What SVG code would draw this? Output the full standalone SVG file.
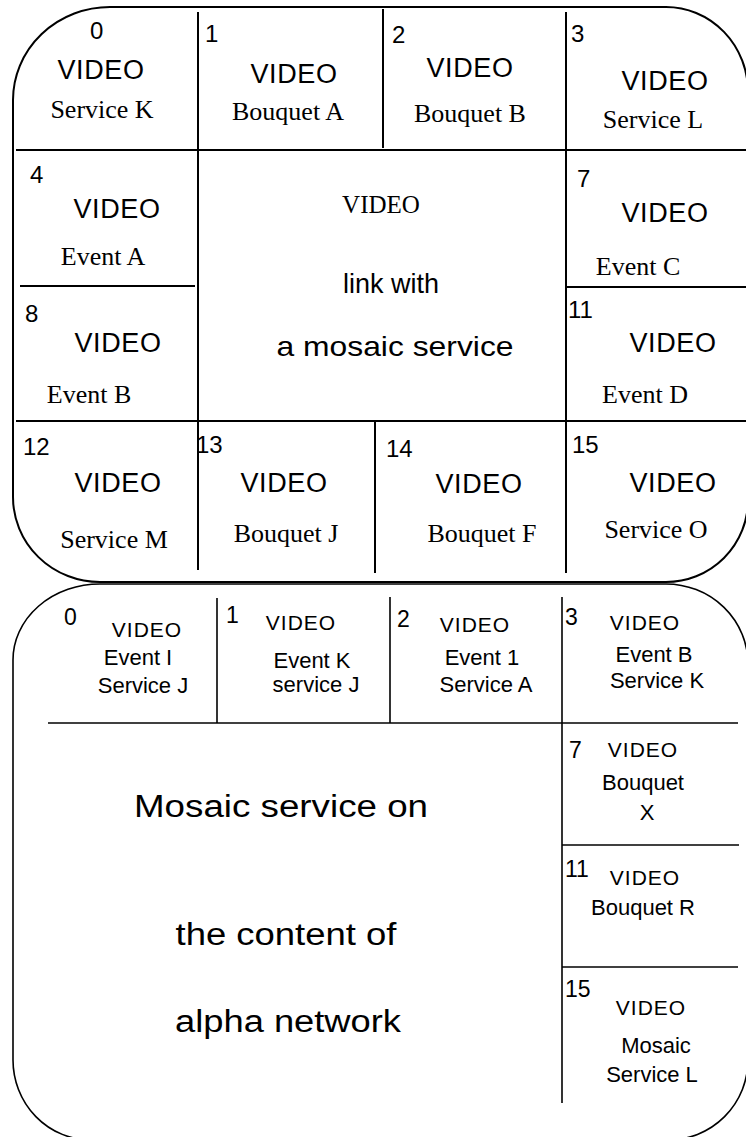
<svg xmlns="http://www.w3.org/2000/svg" width="746" height="1137" viewBox="0 0 746 1137">
<style>
.frame{fill:none;stroke:#000;stroke-width:2}
.frame2{fill:none;stroke:#000;stroke-width:1.6}
.ln{stroke:#000;stroke-width:2;fill:none}
.ln2{stroke:#000;stroke-width:1.6;fill:none}
text{fill:#000}
.num{font-family:"Liberation Sans",Arial,sans-serif;font-size:24px}
.vid{font-family:"Liberation Sans",Arial,sans-serif;font-size:27px;letter-spacing:0.6px;text-anchor:middle}
.ser{font-family:"Liberation Serif","Times New Roman",serif;font-size:26px;text-anchor:middle}
.cvid{font-family:"Liberation Serif","Times New Roman",serif;font-size:25px;text-anchor:middle}
.big{font-family:"Liberation Sans",Arial,sans-serif;font-size:28px;text-anchor:middle}
.bnum{font-family:"Liberation Sans",Arial,sans-serif;font-size:23px}
.bvid{font-family:"Liberation Sans",Arial,sans-serif;font-size:21px;letter-spacing:1px;text-anchor:middle}
.blab{font-family:"Liberation Sans",Arial,sans-serif;font-size:22px;text-anchor:middle}
.bbig{font-family:"Liberation Sans",Arial,sans-serif;font-size:31px;text-anchor:middle}
</style>
<rect x="0" y="0" width="746" height="1137" fill="#fff"/>
<g id="outline-top">
<path class="frame" d="M110,7 H666 A82,85 0 0 1 748,92 V500 A82,82 0 0 1 666,582 H100 A87,85 0 0 1 13,497 V100 A97,93 0 0 1 110,7 Z"/>
</g>
<g id="outline-bottom">
<path class="frame2" d="M100,584 H666 A82,80 0 0 1 748,664 V1060 A80,80 0 0 1 668,1140 H91 A78,80 0 0 1 13,1060 V660 A87,76 0 0 1 100,584 Z"/>
</g>
<g id="connectors">
<line class="ln" x1="198" y1="12" x2="198" y2="570"/>
<line class="ln" x1="383" y1="9" x2="383" y2="148"/>
<line class="ln" x1="566" y1="12" x2="566" y2="573"/>
<line class="ln" x1="16" y1="150" x2="746" y2="150"/>
<line class="ln" x1="20" y1="286" x2="195" y2="286"/>
<line class="ln" x1="566" y1="287" x2="746" y2="287"/>
<line class="ln" x1="16" y1="421" x2="746" y2="421"/>
<line class="ln" x1="375" y1="421" x2="375" y2="573"/>
<line class="ln2" x1="217" y1="598" x2="217" y2="723"/>
<line class="ln2" x1="390" y1="597" x2="390" y2="723"/>
<line class="ln2" x1="562" y1="597" x2="562" y2="1103"/>
<line class="ln2" x1="48" y1="723" x2="738" y2="723"/>
<line class="ln2" x1="562" y1="845" x2="739" y2="845"/>
<line class="ln2" x1="562" y1="967" x2="738" y2="967"/>
</g>
<g id="t0"><text class="num" x="90" y="39">0</text><text class="vid" x="101" y="79">VIDEO</text><text class="ser" x="102" y="118">Service K</text></g>
<g id="t1"><text class="num" x="205" y="42">1</text><text class="vid" x="294" y="83">VIDEO</text><text class="ser" x="288" y="120">Bouquet A</text></g>
<g id="t2"><text class="num" x="392" y="43">2</text><text class="vid" x="470" y="77">VIDEO</text><text class="ser" x="470" y="122">Bouquet B</text></g>
<g id="t3"><text class="num" x="571" y="42">3</text><text class="vid" x="665" y="90">VIDEO</text><text class="ser" x="653" y="128">Service L</text></g>
<g id="t4"><text class="num" x="30" y="183">4</text><text class="vid" x="117" y="218">VIDEO</text><text class="ser" x="103" y="265">Event A</text></g>
<g id="tcenter"><text class="cvid" x="381" y="213">VIDEO</text><text class="big" x="391" y="293" textLength="96" lengthAdjust="spacingAndGlyphs">link with</text><text class="big" x="395" y="356" textLength="237" lengthAdjust="spacingAndGlyphs">a mosaic service</text></g>
<g id="t7"><text class="num" x="577" y="187">7</text><text class="vid" x="665" y="222">VIDEO</text><text class="ser" x="638" y="275">Event C</text></g>
<g id="t8"><text class="num" x="25" y="322">8</text><text class="vid" x="118" y="352">VIDEO</text><text class="ser" x="89" y="403">Event B</text></g>
<g id="t11"><text class="num" x="568" y="318">11</text><text class="vid" x="673" y="352">VIDEO</text><text class="ser" x="645" y="403">Event D</text></g>
<g id="t12"><text class="num" x="23" y="455">12</text><text class="vid" x="118" y="492">VIDEO</text><text class="ser" x="114" y="548">Service M</text></g>
<g id="t13"><text class="num" x="196" y="453">13</text><text class="vid" x="284" y="492">VIDEO</text><text class="ser" x="286" y="542">Bouquet J</text></g>
<g id="t14"><text class="num" x="386" y="457">14</text><text class="vid" x="479" y="493">VIDEO</text><text class="ser" x="482" y="542">Bouquet F</text></g>
<g id="t15"><text class="num" x="572" y="453">15</text><text class="vid" x="673" y="492">VIDEO</text><text class="ser" x="656" y="538">Service O</text></g>
<g id="b0"><text class="bnum" x="64" y="625">0</text><text class="bvid" x="147" y="637">VIDEO</text><text class="blab" x="138" y="665">Event I</text><text class="blab" x="143" y="693">Service J</text></g>
<g id="b1"><text class="bnum" x="226" y="623">1</text><text class="bvid" x="301" y="630">VIDEO</text><text class="blab" x="312" y="668">Event K</text><text class="blab" x="316" y="692">service J</text></g>
<g id="b2"><text class="bnum" x="397" y="627">2</text><text class="bvid" x="475" y="632">VIDEO</text><text class="blab" x="482" y="665">Event 1</text><text class="blab" x="486" y="692">Service A</text></g>
<g id="b3"><text class="bnum" x="565" y="625">3</text><text class="bvid" x="645" y="630">VIDEO</text><text class="blab" x="654" y="662">Event B</text><text class="blab" x="657" y="688">Service K</text></g>
<g id="b7"><text class="bnum" x="569" y="758">7</text><text class="bvid" x="643" y="757">VIDEO</text><text class="blab" x="643" y="790">Bouquet</text><text class="blab" x="647" y="820">X</text></g>
<g id="b11"><text class="bnum" x="565" y="877">11</text><text class="bvid" x="645" y="885">VIDEO</text><text class="blab" x="643" y="915">Bouquet R</text></g>
<g id="b15"><text class="bnum" x="565" y="997">15</text><text class="bvid" x="651" y="1015">VIDEO</text><text class="blab" x="656" y="1053">Mosaic</text><text class="blab" x="652" y="1082">Service L</text></g>
<g id="bmain"><text class="bbig" x="281" y="817" textLength="294" lengthAdjust="spacingAndGlyphs">Mosaic service on</text><text class="bbig" x="286" y="945" textLength="221" lengthAdjust="spacingAndGlyphs">the content of</text><text class="bbig" x="288" y="1032" textLength="226" lengthAdjust="spacingAndGlyphs">alpha network</text></g>
</svg>
